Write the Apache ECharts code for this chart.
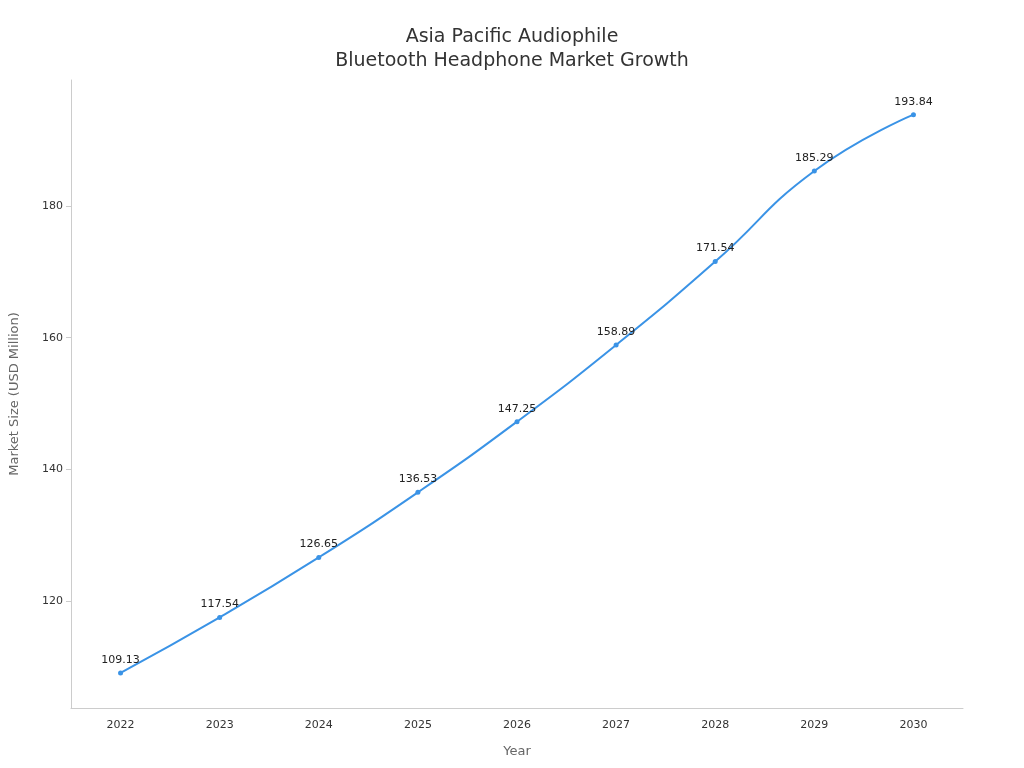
<!DOCTYPE html>
<html><head><meta charset="utf-8">
<script src="https://cdn.jsdelivr.net/npm/echarts@6/dist/echarts.min.js"></script>
<style>html,body{margin:0;padding:0;background:#fff}#c{width:1024px;height:768px}</style>
</head><body><div id="c"></div>
<script>
const years = ['2022','2023','2024','2025','2026','2027','2028','2029','2030'];
const marketSize = [109.13,117.54,126.65,136.53,147.25,158.89,171.54,185.29,193.84];
const chart = echarts.init(document.getElementById('c'));
chart.setOption({
  backgroundColor:'#fff',
  title:{text:'Asia Pacific Audiophile\nBluetooth Headphone Market Growth',left:'center',top:20,
    textStyle:{fontFamily:'DejaVu Sans',fontSize:19,fontWeight:'normal',color:'#333',lineHeight:24}},
  grid:{left:68,right:61,top:80,bottom:60},
  xAxis:{type:'category',data:years,boundaryGap:true,name:'Year',nameLocation:'middle',nameGap:37,
    nameTextStyle:{fontFamily:'DejaVu Sans',fontSize:13,color:'#666'},
    axisLine:{lineStyle:{color:'#ccc'}},axisTick:{show:false},
    axisLabel:{fontFamily:'DejaVu Sans',fontSize:11,color:'#333',margin:12}},
  yAxis:{type:'value',min:103.8,max:199.1,name:'Market Size (USD Million)',nameLocation:'middle',nameGap:50,
    nameTextStyle:{fontFamily:'DejaVu Sans',fontSize:13,color:'#666'},
    axisLine:{show:true,lineStyle:{color:'#ccc'}},axisTick:{show:true,lineStyle:{color:'#ccc'}},splitLine:{show:false},
    axisLabel:{fontFamily:'DejaVu Sans',fontSize:11,color:'#333',showMinLabel:false,showMaxLabel:false}},
  series:[{type:'line',data:marketSize,smooth:true,symbol:'circle',symbolSize:5,
    itemStyle:{color:'#3a93e6'},lineStyle:{color:'#3a93e6',width:2},
    label:{show:true,position:'top',fontFamily:'DejaVu Sans',fontSize:11,color:'#222',formatter:p=>p.value.toFixed(2)}}]
});
</script></body></html>
